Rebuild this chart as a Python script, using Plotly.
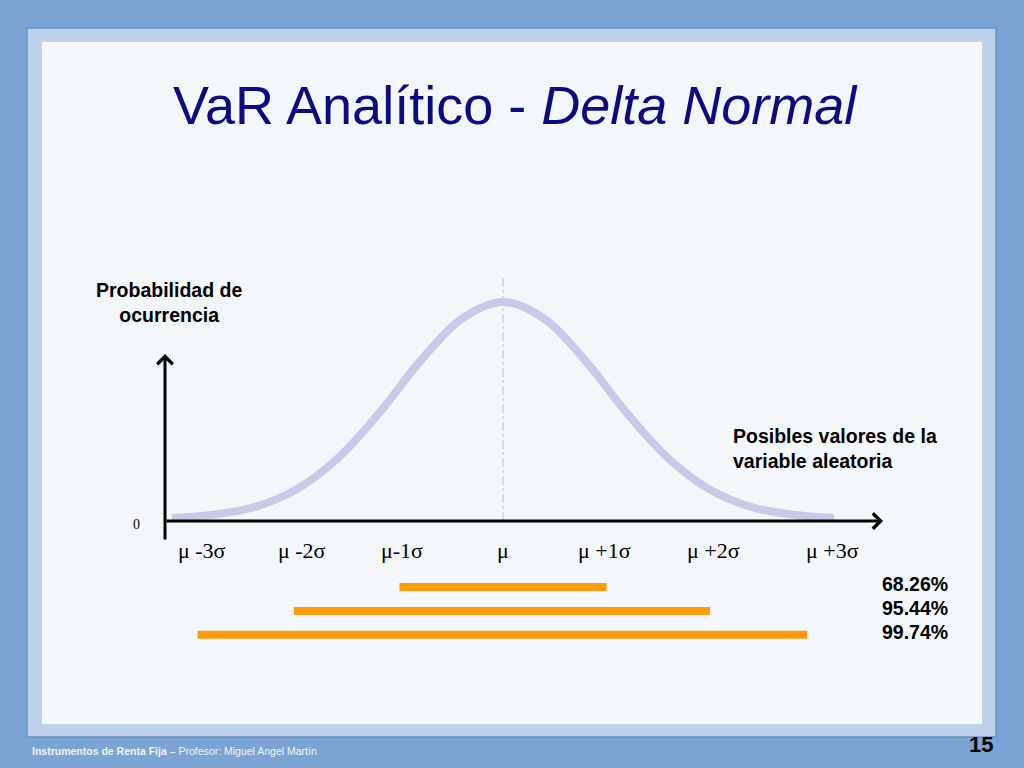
import plotly.graph_objects as go

# ---- data ----
curve_x = [-3.2, -2.8, -2.4, -2.0, -1.6, -1.2, -0.8, -0.4, 0.0, 0.4, 0.8, 1.2, 1.6, 2.0, 2.4, 2.8, 3.2]
curve_y = [0.002, 0.008, 0.022, 0.054, 0.111, 0.194, 0.290, 0.368, 0.399,
           0.368, 0.290, 0.194, 0.111, 0.054, 0.022, 0.008, 0.002]
tick_labels = ["μ -3σ", "μ -2σ", "μ-1σ", "μ", "μ +1σ", "μ +2σ", "μ +3σ"]
tick_pos = [-2.91, -1.94, -0.98, 0.0, 0.98, 2.03, 3.18]
interval_halfwidth = [1.0, 2.0, 2.94]
interval_left = [-1.0, -2.02, -2.95]
interval_level = [-0.125, -0.169, -0.213]
interval_pct = ["68.26%", "95.44%", "99.74%"]

W, H = 1024, 768
X0PX, SX = 503.0, 103.5   # pixel of mean, pixels per sigma
Y0PX, SY = 519.0, 544.0   # pixel of zero density, pixels per unit density

def px_x(p):
    return (p - X0PX) / SX

def px_y(p):
    return (Y0PX - p) / SY

def pap_x(p):
    return p / W

def pap_y(p):
    return 1 - p / H

fig = go.Figure()

# background panels
fig.add_shape(type="rect", xref="paper", yref="paper", x0=pap_x(27), x1=pap_x(996),
              y0=pap_y(737), y1=pap_y(28), fillcolor="#BED2EB",
              line=dict(color="#6A92C6", width=1.5), layer="below")
fig.add_shape(type="rect", xref="paper", yref="paper", x0=pap_x(42), x1=pap_x(982),
              y0=pap_y(724), y1=pap_y(42), fillcolor="#F3F7F9",
              line=dict(width=0), layer="below")

# dashed mean line
fig.add_trace(go.Scatter(x=[0, 0], y=[px_y(521), px_y(278)], mode="lines",
                         line=dict(color="#BDBDBD", width=1, dash="dashdot"),
                         hoverinfo="skip", showlegend=False))

# normal curve
fig.add_trace(go.Scatter(x=curve_x, y=curve_y, mode="lines",
                         line=dict(color="#C8CAE7", width=8, shape="spline"),
                         hoverinfo="skip", showlegend=False))

# interval bars
for lo, hw, lv in zip(interval_left, interval_halfwidth, interval_level):
    fig.add_trace(go.Scatter(x=[lo, hw], y=[lv, lv], mode="lines",
                             line=dict(color="#FF9A0D", width=8),
                             hoverinfo="skip", showlegend=False))

annotations = []
# axes with arrows
ax_x = px_x(165)
annotations.append(dict(x=ax_x, y=px_y(354), ax=ax_x, ay=px_y(541), xref="x", yref="y",
                        axref="x", ayref="y", showarrow=True, arrowhead=4, arrowsize=1,
                        arrowwidth=3, arrowcolor="#000000", text="", standoff=0))
annotations.append(dict(x=px_x(883), y=px_y(521), ax=ax_x, ay=px_y(521), xref="x", yref="y",
                        axref="x", ayref="y", showarrow=True, arrowhead=4, arrowsize=1,
                        arrowwidth=3, arrowcolor="#000000", text="", standoff=0))

# tick labels
for t, p in zip(tick_labels, tick_pos):
    annotations.append(dict(x=p, y=px_y(550), xref="x", yref="y", text=t, showarrow=False,
                            xanchor="center", yanchor="middle",
                            font=dict(family="Liberation Serif, DejaVu Serif", size=22, color="#000000")))

annotations.append(dict(x=px_x(136), y=px_y(524), xref="x", yref="y", text="0", showarrow=False,
                        xanchor="center", yanchor="middle",
                        font=dict(family="Liberation Serif, DejaVu Serif", size=14, color="#000000")))

# percentages
for pct, lv in zip(interval_pct, interval_level):
    annotations.append(dict(x=pap_x(880), y=lv, xref="paper", yref="y", text="<b>" + pct + "</b>",
                            showarrow=False, xanchor="left", yanchor="middle", yshift=3,
                            font=dict(family="Liberation Sans, Arial", size=19.5, color="#000000")))

# title
annotations.append(dict(x=pap_x(515), y=pap_y(105), xref="paper", yref="paper",
                        text="VaR Analítico - <i>Delta Normal</i>", showarrow=False,
                        xanchor="center", yanchor="middle",
                        font=dict(family="Liberation Sans, Arial", size=54, color="#0C0C80")))

# axis titles
annotations.append(dict(x=pap_x(169), y=pap_y(302), xref="paper", yref="paper",
                        text="<b>Probabilidad de<br>ocurrencia</b>", showarrow=False,
                        xanchor="center", yanchor="middle", align="center",
                        font=dict(family="Liberation Sans, Arial", size=19.5, color="#000000")))
annotations.append(dict(x=pap_x(731), y=pap_y(448), xref="paper", yref="paper",
                        text="<b>Posibles valores de la<br>variable aleatoria</b>", showarrow=False,
                        xanchor="left", yanchor="middle", align="left",
                        font=dict(family="Liberation Sans, Arial", size=19.5, color="#000000")))

# footer
annotations.append(dict(x=pap_x(30), y=pap_y(751), xref="paper", yref="paper",
                        text="<b>Instrumentos de Renta Fija</b> – Profesor: Miguel Angel Martín",
                        showarrow=False, xanchor="left", yanchor="middle",
                        font=dict(family="Liberation Sans Narrow, Arial Narrow, Liberation Sans",
                                  size=10.5, color="#EEF3FA")))
annotations.append(dict(x=pap_x(995), y=pap_y(744), xref="paper", yref="paper",
                        text="<b>15</b>", showarrow=False, xanchor="right", yanchor="middle",
                        font=dict(family="Liberation Sans, Arial", size=22, color="#000000")))

fig.update_layout(
    width=W, height=H,
    margin=dict(l=0, r=0, t=0, b=0),
    paper_bgcolor="#7BA3D3",
    plot_bgcolor="rgba(0,0,0,0)",
    xaxis=dict(range=[px_x(0), px_x(W)], visible=False, fixedrange=True),
    yaxis=dict(range=[px_y(H), px_y(0)], visible=False, fixedrange=True),
    annotations=annotations,
    showlegend=False,
)

fig.write_html("out.html", config={"displayModeBar": False},
               post_script="document.body.style.margin='0';document.body.style.overflow='hidden';")
